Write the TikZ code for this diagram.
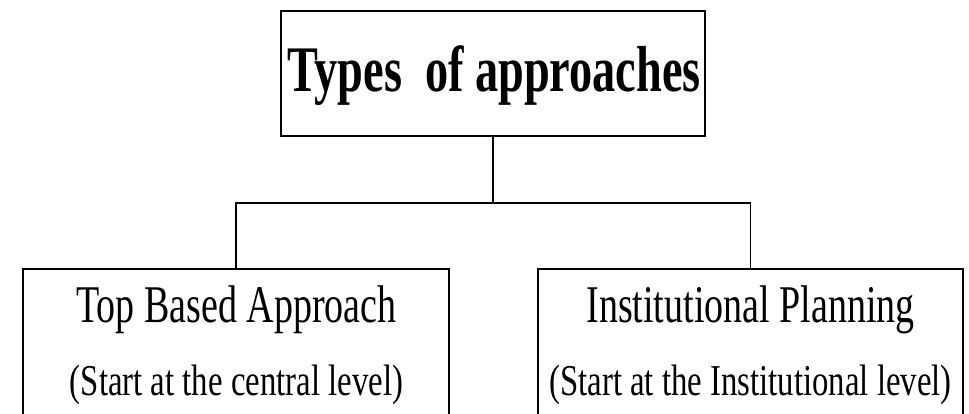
\documentclass[tikz,border=0pt]{standalone}
\usepackage{fontspec}
\setmainfont{Liberation Serif}
\usepackage{graphicx}
\usetikzlibrary{calc}
\tikzset{
  boxshape/.style={draw=black, line width=1.8pt, rectangle, inner sep=0pt},
  txt/.style={anchor=base, inner sep=0pt, text=black},
  link/.style={draw=black, line width=1.8pt},
}
\newcommand{\titlefont}{\fontsize{65}{70}\selectfont\bfseries}
\newcommand{\mainline}{\fontsize{53}{58}\selectfont}
\newcommand{\subline}{\fontsize{44}{48}\selectfont}
\begin{document}
\begin{tikzpicture}[x=1pt,y=-1pt]
\useasboundingbox (0,0) rectangle (969,413);
% boxes
\node[boxshape, minimum width=424pt, minimum height=125pt] (top) at (493,73.5) {};
\node[boxshape, minimum width=426pt, minimum height=171pt] (left) at (236,354.5) {};
\node[boxshape, minimum width=425pt, minimum height=171pt] (right) at (750.5,354.5) {};
% texts
\node[txt] (ttl) at (494,91) {\titlefont\scalebox{0.712}[1]{Types\ \ of approaches}};
\node[txt] (l1) at (236.5,322) {\mainline\scalebox{0.717}[1]{Top Based Approach}};
\node[txt] (l2) at (236.5,395) {\subline\scalebox{0.745}[1]{(Start at the central level)}};
\node[txt] (r1) at (750.5,322) {\mainline\scalebox{0.717}[1]{Institutional Planning}};
\node[txt] (r2) at (750.5,395) {\subline\scalebox{0.745}[1]{(Start at the Institutional level)}};
% connectors
\coordinate (j) at ($(top.south)+(0,66)$);
\draw[link] (top.south) -- (j);
\draw[link] (left.north) |- (j) -| (right.north);
\end{tikzpicture}
\end{document}
